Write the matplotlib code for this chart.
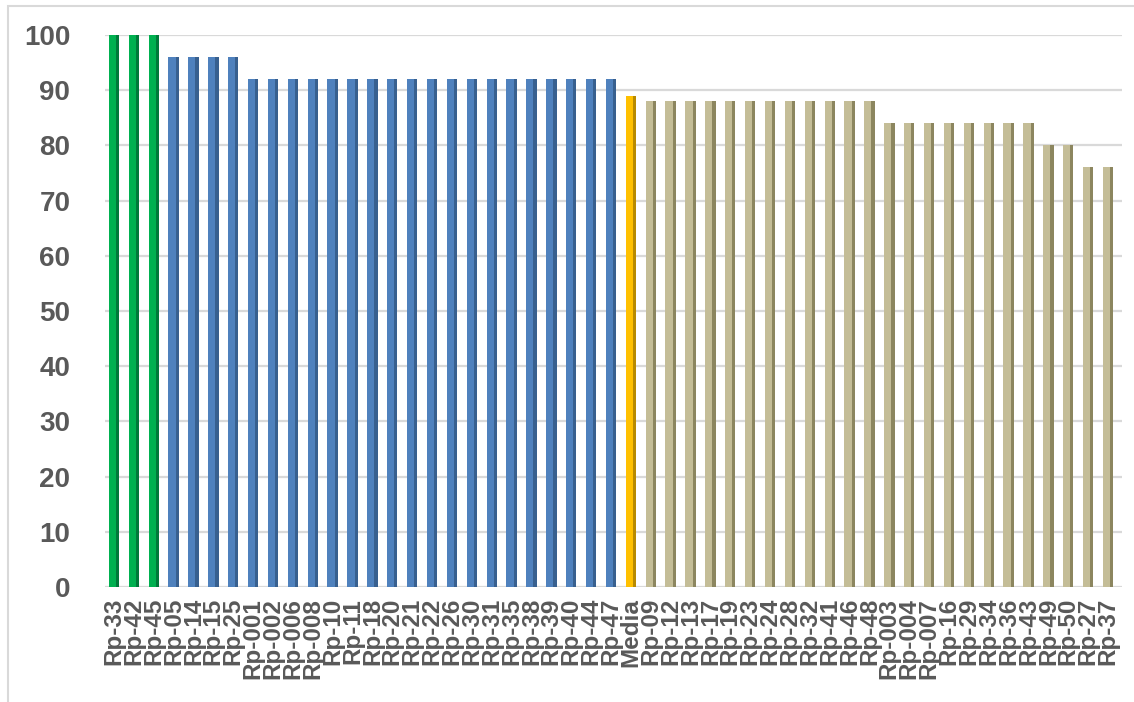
import matplotlib.pyplot as plt
from matplotlib.patches import Rectangle

# puntuaciones por participante
labels = ['Rp-33', 'Rp-42', 'Rp-45', 'Rp-05', 'Rp-14', 'Rp-15', 'Rp-25',
          'Rp-001', 'Rp-002', 'Rp-006', 'Rp-008', 'Rp-10', 'Rp-11', 'Rp-18',
          'Rp-20', 'Rp-21', 'Rp-22', 'Rp-26', 'Rp-30', 'Rp-31', 'Rp-35',
          'Rp-38', 'Rp-39', 'Rp-40', 'Rp-44', 'Rp-47', 'Media', 'Rp-09',
          'Rp-12', 'Rp-13', 'Rp-17', 'Rp-19', 'Rp-23', 'Rp-24', 'Rp-28',
          'Rp-32', 'Rp-41', 'Rp-46', 'Rp-48', 'Rp-003', 'Rp-004', 'Rp-007',
          'Rp-16', 'Rp-29', 'Rp-34', 'Rp-36', 'Rp-43', 'Rp-49', 'Rp-50',
          'Rp-27', 'Rp-37']
values = [100, 100, 100, 96, 96, 96, 96,
          92, 92, 92, 92, 92, 92, 92,
          92, 92, 92, 92, 92, 92, 92,
          92, 92, 92, 92, 92, 89, 88,
          88, 88, 88, 88, 88, 88, 88,
          88, 88, 88, 88, 84, 84, 84,
          84, 84, 84, 84, 84, 80, 80,
          76, 76]
groups = ['top'] * 3 + ['high'] * 23 + ['mean'] + ['low'] * 24

front = {'top': '#00B050', 'high': '#4F81BD', 'mean': '#FFC000', 'low': '#C4BD97'}
side = {'top': '#00793A', 'high': '#38608F', 'mean': '#B88A00', 'low': '#8C865F'}

fig = plt.figure(figsize=(11.34, 7.02), dpi=100)
ax = fig.add_axes([105 / 1134, 1 - 587 / 702, 1017 / 1134, 552 / 702])

x = list(range(len(labels)))
# cara frontal + cara lateral mas oscura
ax.bar(x, values, width=0.52, color=[front[g] for g in groups], zorder=3)
ax.bar([i + 0.18 for i in x], values, width=0.16,
       color=[side[g] for g in groups], zorder=4)

ax.set_xlim(-0.45, 50.7)
ax.set_ylim(0, 100)
ax.set_yticks(range(0, 101, 10))
ax.yaxis.grid(True, color='#D9D9D9', linewidth=1.6, zorder=0)
ax.set_axisbelow(True)
for s in ax.spines.values():
    s.set_visible(False)

ax.set_xticks(x)
ax.set_xticklabels(labels, rotation=90)
ax.tick_params(axis='both', length=0, labelcolor='#595959')
ax.tick_params(axis='y', pad=25)
ax.tick_params(axis='x', pad=8)
for t in ax.get_yticklabels():
    t.set_fontfamily('Liberation Sans')
    t.set_fontweight('bold')
    t.set_fontsize(20)
for t in ax.get_xticklabels():
    t.set_fontfamily('Liberation Sans')
    t.set_fontweight('bold')
    t.set_fontsize(17.5)

# marco del grafico
fig.patches.append(Rectangle((8 / 1134, -0.1), 1.2, 1 - 6 / 702 + 0.1,
                             transform=fig.transFigure, fill=False,
                             edgecolor='#D9D9D9', linewidth=1.5))

fig.savefig('out.png', dpi=100)
